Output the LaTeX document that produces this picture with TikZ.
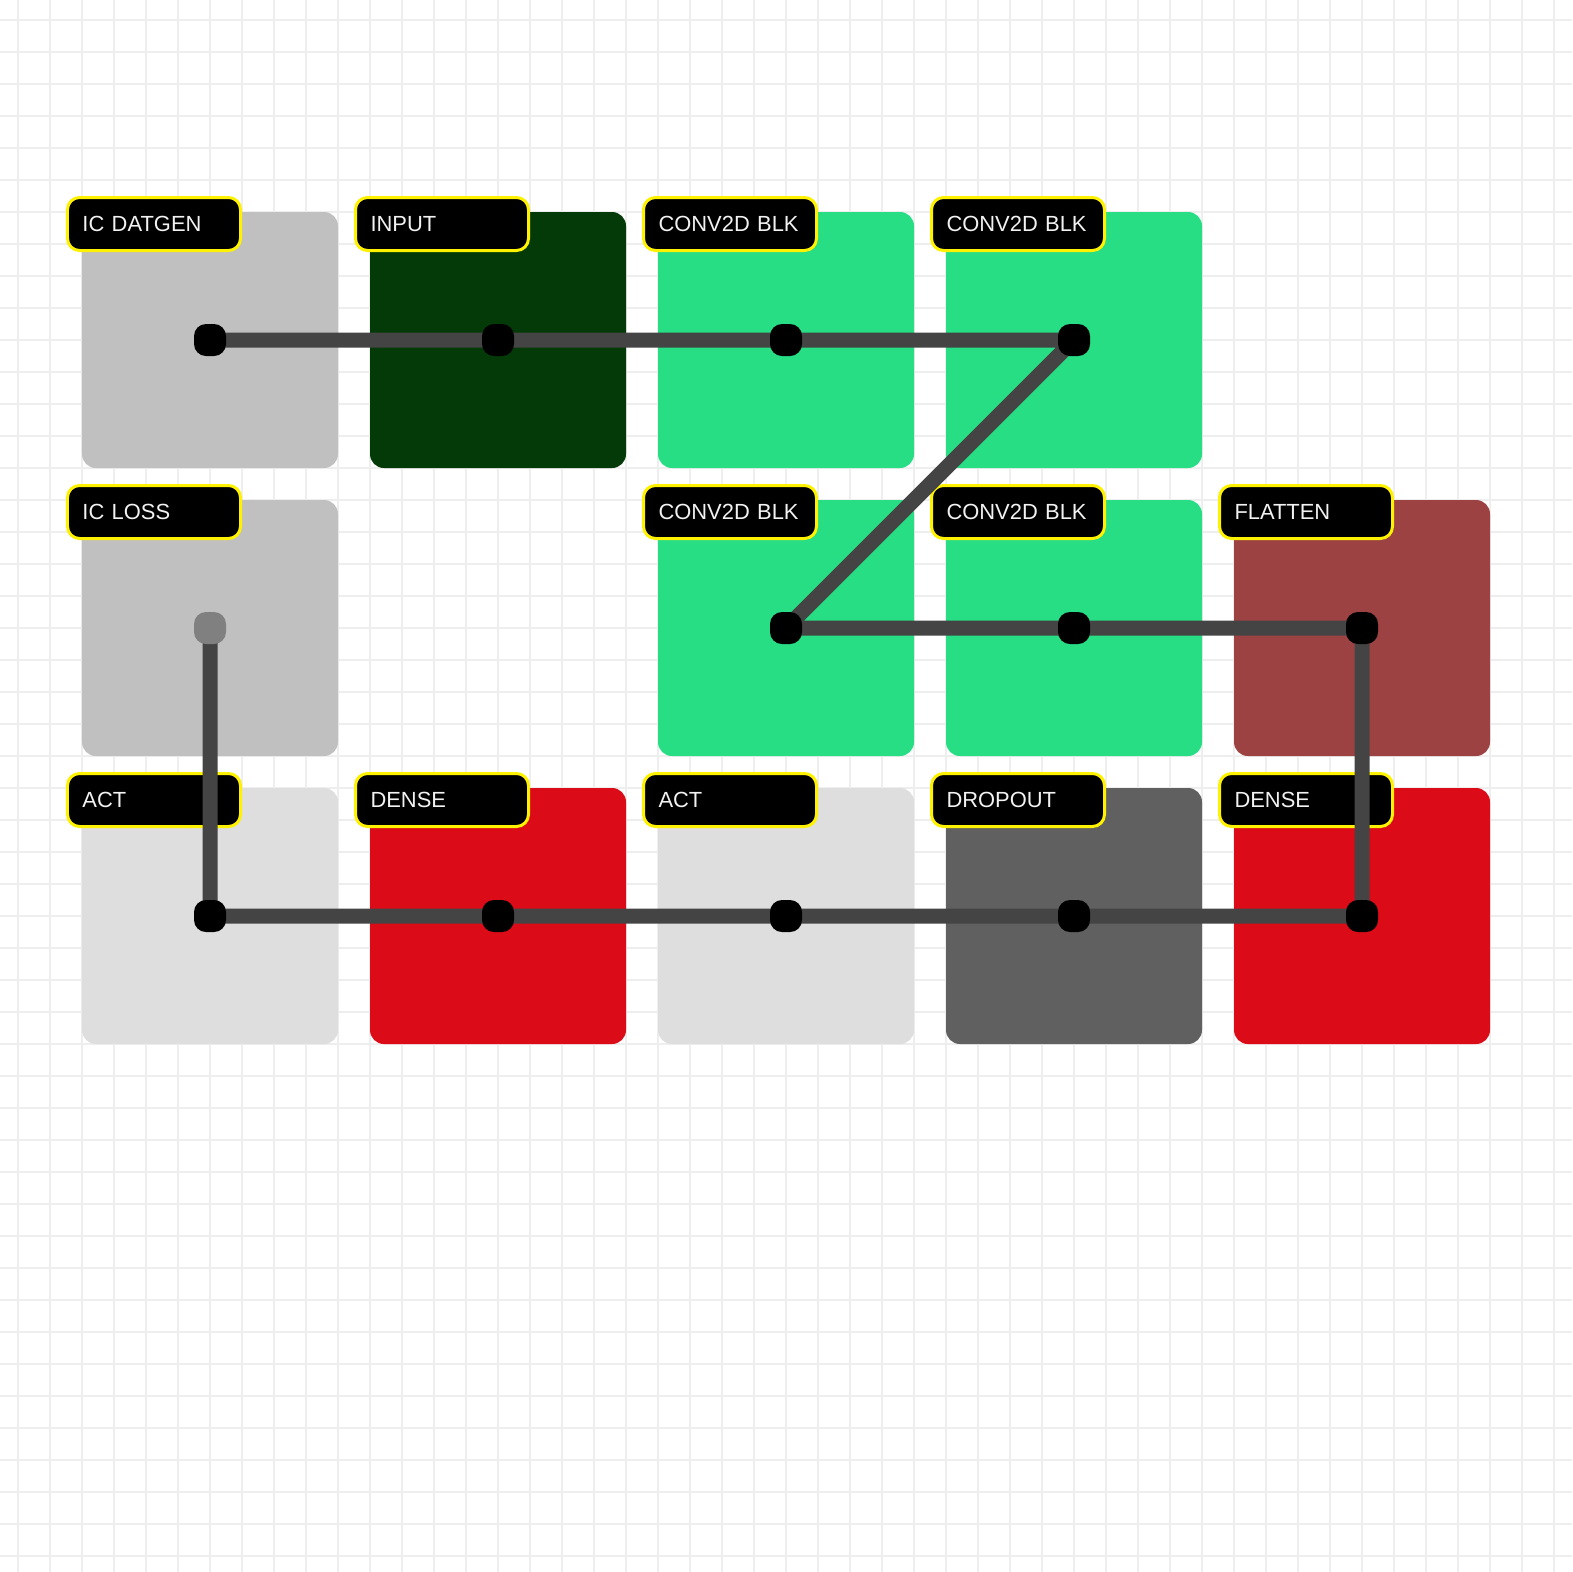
\documentclass[tikz,border=0pt]{standalone}
\usepackage{fontspec}
\setmainfont{Liberation Sans}
\definecolor{gridc}{HTML}{EEEEEE}
\definecolor{cgrey}{HTML}{C0C0C0}
\definecolor{cdkgreen}{HTML}{043A07}
\definecolor{cgreen}{HTML}{27DE85}
\definecolor{cbrown}{HTML}{9D4243}
\definecolor{cred}{HTML}{DC0B18}
\definecolor{clight}{HTML}{DEDEDE}
\definecolor{cdark}{HTML}{606060}
\definecolor{wirec}{HTML}{444444}
\definecolor{greydot}{HTML}{808080}
\definecolor{ltext}{HTML}{F2F2F2}
\tikzset{
  block/.style={draw=none, rounded corners=7bp, minimum width=128bp, minimum height=128bp, inner sep=0pt},
  tag/.style={draw=yellow, line width=1.5bp, fill=black, rounded corners=6bp, text=ltext,
    font=\fontsize{11}{13}\selectfont, align=left, text width=71.5bp, inner xsep=7.5bp,
    minimum height=26.5bp, text height=8pt, text depth=0pt, inner ysep=0pt},
  wire/.style={draw=wirec, line width=7.5bp, line join=round},
  dotbox/.style={fill=black, rounded corners=6bp, minimum size=16bp, inner sep=0pt},
}
\begin{document}
\begin{tikzpicture}[x=0.5bp,y=-0.5bp]
\useasboundingbox (0,0) rectangle (1572,1572);
\fill[white] (0,0) rectangle (1572,1572);
\foreach \i in {0,...,48} {
  \draw[gridc, line width=1bp] ({18+32*\i},0) -- ({18+32*\i},1572);
}
\foreach \j in {0,...,48} {
  \draw[gridc, line width=1bp] (0,{20+32*\j}) -- (1572,{20+32*\j});
}
% blocks
\node[block, fill=cgrey]    (b11) at (210,340) {};
\node[block, fill=cdkgreen] (b12) at (498,340) {};
\node[block, fill=cgreen]   (b13) at (786,340) {};
\node[block, fill=cgreen]   (b14) at (1074,340) {};
\node[block, fill=cgrey]    (b21) at (210,628) {};
\node[block, fill=cgreen]   (b23) at (786,628) {};
\node[block, fill=cgreen]   (b24) at (1074,628) {};
\node[block, fill=cbrown]   (b25) at (1362,628) {};
\node[block, fill=clight]   (b31) at (210,916) {};
\node[block, fill=cred]     (b32) at (498,916) {};
\node[block, fill=clight]   (b33) at (786,916) {};
\node[block, fill=cdark]    (b34) at (1074,916) {};
\node[block, fill=cred]     (b35) at (1362,916) {};
% labels
\node[tag] (l11) at ([shift={(-56,-116)}]b11.center) {IC DATGEN};
\node[tag] (l12) at ([shift={(-56,-116)}]b12.center) {INPUT};
\node[tag] (l13) at ([shift={(-56,-116)}]b13.center) {CONV2D BLK};
\node[tag] (l14) at ([shift={(-56,-116)}]b14.center) {CONV2D BLK};
\node[tag] (l21) at ([shift={(-56,-116)}]b21.center) {IC LOSS};
\node[tag] (l23) at ([shift={(-56,-116)}]b23.center) {CONV2D BLK};
\node[tag] (l24) at ([shift={(-56,-116)}]b24.center) {CONV2D BLK};
\node[tag] (l25) at ([shift={(-56,-116)}]b25.center) {FLATTEN};
\node[tag] (l31) at ([shift={(-56,-116)}]b31.center) {ACT};
\node[tag] (l32) at ([shift={(-56,-116)}]b32.center) {DENSE};
\node[tag] (l33) at ([shift={(-56,-116)}]b33.center) {ACT};
\node[tag] (l34) at ([shift={(-56,-116)}]b34.center) {DROPOUT};
\node[tag] (l35) at ([shift={(-56,-116)}]b35.center) {DENSE};
% wire
\draw[wire] (b11.center) -- (b12.center) -- (b13.center) -- (b14.center)
  -- (b23.center) -- (b24.center) -- (b25.center) -- (b35.center)
  -- (b34.center) -- (b33.center) -- (b32.center) -- (b31.center) -- (b21.center);
% dots
\node[dotbox] (d11) at (b11.center) {};
\node[dotbox] (d12) at (b12.center) {};
\node[dotbox] (d13) at (b13.center) {};
\node[dotbox] (d14) at (b14.center) {};
\node[dotbox, fill=greydot] (d21) at (b21.center) {};
\node[dotbox] (d23) at (b23.center) {};
\node[dotbox] (d24) at (b24.center) {};
\node[dotbox] (d25) at (b25.center) {};
\node[dotbox] (d31) at (b31.center) {};
\node[dotbox] (d32) at (b32.center) {};
\node[dotbox] (d33) at (b33.center) {};
\node[dotbox] (d34) at (b34.center) {};
\node[dotbox] (d35) at (b35.center) {};
\end{tikzpicture}
\end{document}
